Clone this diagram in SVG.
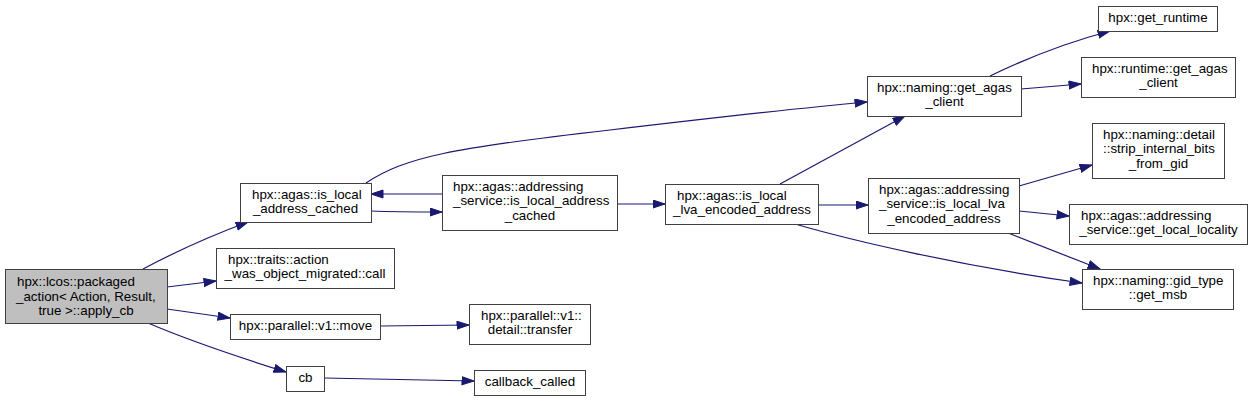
<svg xmlns="http://www.w3.org/2000/svg" width="1252" height="401" viewBox="0 0 1252 401">
<style>
.n rect{fill:#ffffff;stroke:#404040;stroke-width:1}
.n.root rect{fill:#bfbfbf}
.n text{font-family:"Liberation Sans",Arial,sans-serif;font-size:13.33px;fill:#000000}
.c{text-anchor:middle}
.e path{fill:none;stroke:#191970;stroke-width:1.2;marker-end:url(#a)}
</style>
<defs>
<marker id="a" markerWidth="14" markerHeight="10" refX="12.5" refY="4.5" orient="auto" markerUnits="userSpaceOnUse">
<path d="M0.5,0.5 L12.5,4.5 L0.5,8.5 z" fill="#191970" stroke="#191970" stroke-width="1"/>
</marker>
</defs>
<rect width="1252" height="401" fill="#ffffff"/>
<g id="edges" class="e">
<path d="M143,269 C175,252 210,236 248,222"/>
<path d="M167,287 L216,281"/>
<path d="M167,309 L230,318"/>
<path d="M148,323 C190,341 235,356 286,372"/>
<path d="M371,211 C395,212 418,212 442,212"/>
<path d="M442,194 C418,194 395,194 371,194"/>
<path d="M366,183 C405,157 452,148 610,130 C720,117 800,108 867,102"/>
<path d="M617,204 L665,204"/>
<path d="M780,184 L905,116"/>
<path d="M819,205 L868,205"/>
<path d="M795,224 C850,240 960,266 1082,283"/>
<path d="M990,76 C1025,59 1065,43 1110,31"/>
<path d="M1021,89 L1081,84"/>
<path d="M1019,186 L1092,165"/>
<path d="M1019,211 L1069,216"/>
<path d="M1008,233 L1100,269"/>
<path d="M380,326 L469,325"/>
<path d="M324,378 L474,381"/>
</g>
<g id="n_root" class="n root">
<rect x="5.5" y="269.5" width="162" height="54"/>
<text x="17" y="286">hpx::lcos::packaged</text>
<text x="16" y="301">_action&lt; Action, Result,</text>
<text class="c" x="86" y="315">true &gt;::apply_cb</text>
</g>
<g id="n_is_local_address_cached" class="n">
<rect x="240.5" y="183.5" width="131" height="39"/>
<text x="252" y="199">hpx::agas::is_local</text>
<text class="c" x="305.5" y="213">_address_cached</text>
</g>
<g id="n_as_is_local_address_cached" class="n">
<rect x="442.5" y="175.5" width="175" height="55"/>
<text x="453" y="191">hpx::agas::addressing</text>
<text x="453" y="205">_service::is_local_address</text>
<text class="c" x="530" y="220">_cached</text>
</g>
<g id="n_traits" class="n">
<rect x="216.5" y="248.5" width="178" height="40"/>
<text x="228" y="264">hpx::traits::action</text>
<text class="c" x="305" y="278">_was_object_migrated::call</text>
</g>
<g id="n_move" class="n">
<rect x="230.5" y="314.5" width="150" height="25"/>
<text class="c" x="305.5" y="330">hpx::parallel::v1::move</text>
</g>
<g id="n_transfer" class="n">
<rect x="469.5" y="304.5" width="121" height="40"/>
<text x="481" y="320">hpx::parallel::v1::</text>
<text class="c" x="530" y="334">detail::transfer</text>
</g>
<g id="n_cb" class="n">
<rect x="286.5" y="366.5" width="38" height="25"/>
<text class="c" x="305.5" y="382">cb</text>
</g>
<g id="n_callback_called" class="n">
<rect x="474.5" y="370.5" width="111" height="25"/>
<text class="c" x="530" y="386">callback_called</text>
</g>
<g id="n_lva" class="n">
<rect x="665.5" y="184.5" width="153" height="40"/>
<text x="677" y="200">hpx::agas::is_local</text>
<text class="c" x="742" y="214">_lva_encoded_address</text>
</g>
<g id="n_get_agas_client" class="n">
<rect x="867.5" y="76.5" width="154" height="40"/>
<text x="877" y="92">hpx::naming::get_agas</text>
<text class="c" x="944.5" y="106">_client</text>
</g>
<g id="n_as_lva" class="n">
<rect x="868.5" y="178.5" width="151" height="55"/>
<text x="879" y="194">hpx::agas::addressing</text>
<text x="879" y="208">_service::is_local_lva</text>
<text class="c" x="944" y="223">_encoded_address</text>
</g>
<g id="n_get_runtime" class="n">
<rect x="1098.5" y="6.5" width="119" height="25"/>
<text class="c" x="1158" y="22">hpx::get_runtime</text>
</g>
<g id="n_runtime_get_agas_client" class="n">
<rect x="1081.5" y="57.5" width="154" height="40"/>
<text x="1092" y="73">hpx::runtime::get_agas</text>
<text class="c" x="1158.5" y="87">_client</text>
</g>
<g id="n_strip" class="n">
<rect x="1092.5" y="123.5" width="132" height="55"/>
<text x="1103" y="139">hpx::naming::detail</text>
<text x="1103" y="153">::strip_internal_bits</text>
<text class="c" x="1158.5" y="168">_from_gid</text>
</g>
<g id="n_get_local_locality" class="n">
<rect x="1069.5" y="204.5" width="178" height="40"/>
<text x="1081" y="220">hpx::agas::addressing</text>
<text class="c" x="1158.5" y="234">_service::get_local_locality</text>
</g>
<g id="n_get_msb" class="n">
<rect x="1082.5" y="269.5" width="151" height="40"/>
<text x="1093" y="285">hpx::naming::gid_type</text>
<text class="c" x="1158" y="299">::get_msb</text>
</g>
</svg>
